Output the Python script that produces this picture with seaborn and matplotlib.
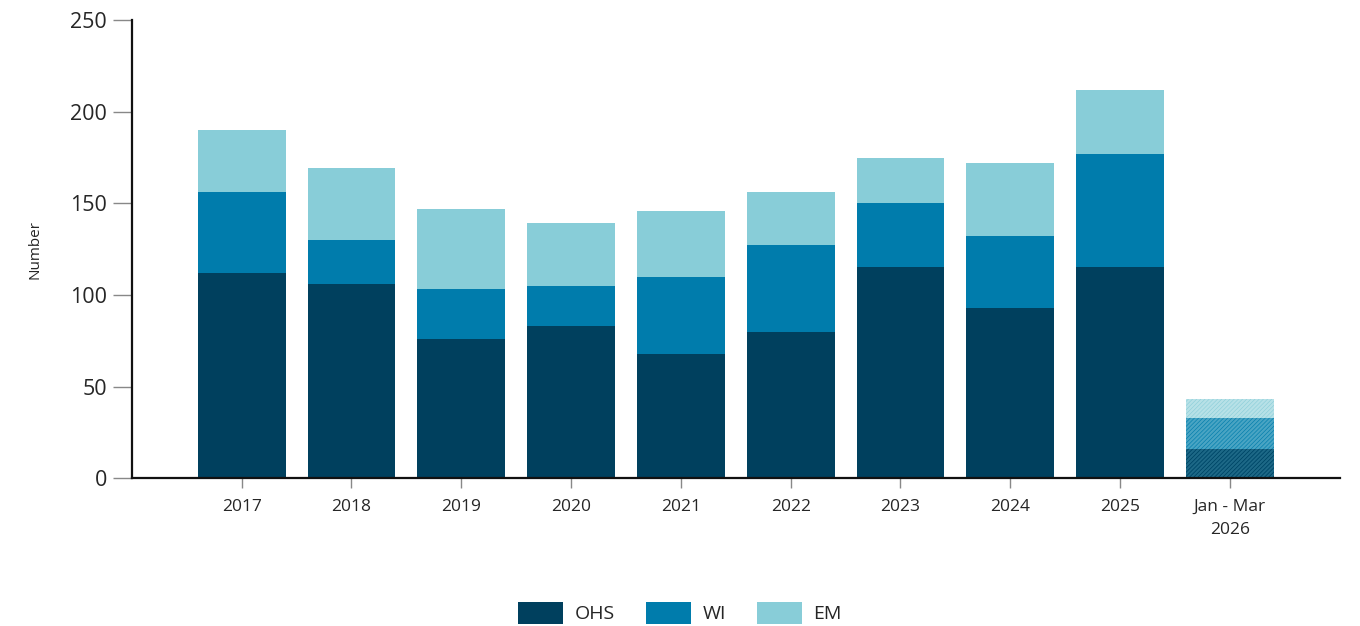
import numpy as np
import pandas as pd
import matplotlib
import matplotlib.pyplot as plt
import seaborn as sns
from matplotlib.patches import Patch

periods = ["2017", "2018", "2019", "2020", "2021", "2022", "2023", "2024", "2025", "Jan - Mar\n2026"]
ohs = [112, 106, 76, 83, 68, 80, 115, 93, 115, 16]
wi = [44, 24, 27, 22, 42, 47, 35, 39, 62, 17]
em = [34, 39, 44, 34, 36, 29, 25, 40, 35, 10]
series = ["OHS", "WI", "EM"]
colors = {"OHS": "#00405e", "WI": "#007cac", "EM": "#88cdd8"}

sns.set_style("ticks")
plt.rcParams["font.family"] = ["Open Sans", "DejaVu Sans"]
plt.rcParams["hatch.linewidth"] = 0.4

df = pd.DataFrame({"period": periods, "OHS": ohs, "WI": wi, "EM": em})
df["OHS_top"] = df["OHS"]
df["WI_top"] = df["OHS"] + df["WI"]
df["EM_top"] = df["WI_top"] + df["EM"]

fig = plt.figure(figsize=(13.6, 6.26), dpi=100)
ax = fig.add_axes([0.097, 0.236, 0.888, 0.732])

# stacked bars: draw cumulative totals from the top down
for name in ["EM", "WI", "OHS"]:
    sns.barplot(data=df, x="period", y=f"{name}_top", color=colors[name],
                width=0.8, saturation=1, ax=ax, linewidth=0)

# the partial year is drawn hatched and faded
for p in ax.patches:
    if abs(p.get_x() + p.get_width() / 2 - (len(periods) - 1)) < 0.01:
        c = p.get_facecolor()
        p.set_facecolor((c[0], c[1], c[2], 0.6))
        p.set_edgecolor((c[0], c[1], c[2], 1))
        p.set_hatch("////////")
        p.set_linewidth(0)

ax.set_xlim(-1, len(periods))
ax.set_ylim(0, 250)
ax.set_yticks([0, 50, 100, 150, 200, 250])
ax.set_xlabel("")
ax.set_ylabel("Number", fontsize=11, labelpad=20)
ax.tick_params(axis="y", labelsize=15.5, length=14, color="#888888", width=1, pad=4)
ax.tick_params(axis="x", labelsize=12.5, length=7, color="#888888", width=1, pad=8)
for lbl in ax.get_xticklabels():
    lbl.set_linespacing(1.6)
sns.despine(ax=ax)
ax.spines["left"].set_linewidth(1.6)
ax.spines["bottom"].set_linewidth(1.6)
ax.spines["left"].set_color("#111111")
ax.spines["bottom"].set_color("#111111")

handles = [Patch(facecolor=colors[s], edgecolor="none", label=s) for s in series]
fig.legend(handles=handles, loc="lower center", bbox_to_anchor=(0.5, -0.024), ncol=3,
           frameon=False, fontsize=14, handlelength=2.3, handleheight=1.3,
           columnspacing=1.6, handletextpad=0.6)

fig.savefig("out.png", dpi=100)
